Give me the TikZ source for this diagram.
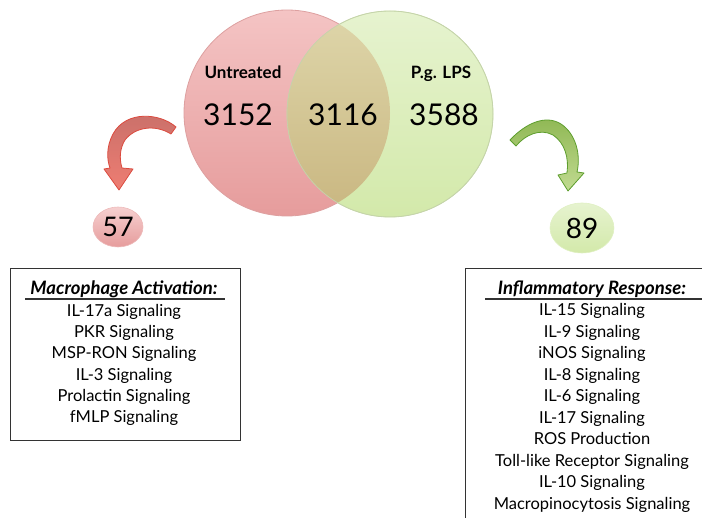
\documentclass[tikz,border=0pt]{standalone}
\usepackage{fontspec}
\setmainfont{Lato}
\usetikzlibrary{shapes.geometric}
\definecolor{pinktop}{HTML}{F4C4C4}
\definecolor{pinkbot}{HTML}{E69C9C}
\definecolor{pinkedge}{HTML}{DDA0A0}
\definecolor{greentop}{HTML}{E6F3CF}
\definecolor{greenbot}{HTML}{D3E9AA}
\definecolor{greenedge}{HTML}{C6DC9E}
\definecolor{olivetop}{HTML}{DED6AA}
\definecolor{olivebot}{HTML}{C9B680}
\definecolor{redfill}{HTML}{EE7D72}
\definecolor{redtop}{HTML}{C9706A}
\definecolor{rededge}{HTML}{DB4A3E}
\definecolor{grfill}{HTML}{A6CB62}
\definecolor{grtop}{HTML}{8DB651}
\definecolor{gredge}{HTML}{5E9E2E}
\definecolor{boxedge}{HTML}{333333}
\begin{document}
\begin{tikzpicture}[x=1pt,y=-1pt,
  vlabel/.style={font=\fontsize{17}{17}\selectfont\bfseries, anchor=base},
  vnum/.style={font=\fontsize{30}{30}\selectfont, anchor=base},
  badge/.style={ellipse, draw=#1!70!white, line width=0.6pt, inner sep=0pt},
  listline/.style={font=\fontsize{16.5}{16.5}\selectfont, anchor=base},
  listtitle/.style={font=\fontsize{18.5}{18.5}\selectfont\bfseries\itshape, anchor=base},
  listbox/.style={draw=boxedge, line width=0.9pt},
  curvedarrow/.style={line width=0.8pt, line join=round}
]
\useasboundingbox (0,0) rectangle (702,518);

% Venn circles
\path[top color=pinktop, bottom color=pinkbot, draw=pinkedge, line width=0.8pt]
  (287,113) circle[radius=103];
\path[top color=greentop, bottom color=greenbot, draw=greenedge, line width=0.8pt]
  (390,114) circle[radius=103];
\begin{scope}
  \clip (287,113) circle[radius=103];
  \path[top color=olivetop, bottom color=olivebot] (390,114) circle[radius=103];
\end{scope}
\draw[greenedge!80!black!60!white, line width=0.5pt] (390,114) circle[radius=103];

\node[vlabel] (untreated) at (243,79) {Untreated};
\node[vlabel] (pglps) at (441,79) {P.g. LPS};
\node[vnum] (n3152) at (238,126) {3152};
\node[vnum] (n3116) at (343,126) {3116};
\node[vnum] (n3588) at (444,126) {3588};

% left curved arrow
\path[curvedarrow, draw=rededge, top color=redtop, bottom color=redfill]
  (176,127) .. controls (160,113) and (126,110) .. (113,134)
  .. controls (106,147) and (107,160) .. (110,168)
  -- (104,169) -- (119,190) -- (133,169) -- (122,168)
  .. controls (119,158) and (120,148) .. (125,140)
  .. controls (135,127) and (155,124) .. (171,134) -- cycle;

% right curved arrow
\path[curvedarrow, draw=gredge, top color=grtop, bottom color=grfill!70!white]
  (510,140) .. controls (525,124) and (545,114) .. (561,124)
  .. controls (576,134) and (581,155) .. (577,172)
  -- (584,173) -- (568,191) -- (558,175) -- (567,173)
  .. controls (569,158) and (565,143) .. (553,135)
  .. controls (540,128) and (525,135) .. (516,146) -- cycle;

% badges
\node[badge=pinkbot, top color=pinktop!80!white, bottom color=pinkbot, minimum width=50pt, minimum height=40pt,
  font=\fontsize{27}{27}\selectfont] (b57) at (118,227) {57};
\node[badge=greenbot, top color=greentop, bottom color=greenbot, minimum width=64pt, minimum height=50pt,
  font=\fontsize{28}{28}\selectfont] (b89) at (582,228) {89};

% left box
\draw[listbox] (10,268) rectangle (240,440);
\node[listtitle] (ltitle) at (124,295) {Macrophage Activation:};
\draw[line width=1.2pt, boxedge] (25,299) -- (225,299);
\node[listline] (l1) at (124,317) {IL-17a Signaling};
\node[listline] (l2) at (124,338) {PKR Signaling};
\node[listline] (l3) at (124,359) {MSP-RON Signaling};
\node[listline] (l4) at (124,381) {IL-3 Signaling};
\node[listline] (l5) at (124,402) {Prolactin Signaling};
\node[listline] (l6) at (124,423) {fMLP Signaling};

% right box
\draw[listbox] (465,268) rectangle (712,530);
\node[listtitle] (rtitle) at (592,295) {Inflammatory Response:};
\draw[line width=1.2pt, boxedge] (485,299) -- (702,299);
\node[listline] (r1) at (592,316) {IL-15 Signaling};
\node[listline] (r2) at (592,338) {IL-9 Signaling};
\node[listline] (r3) at (592,359) {iNOS Signaling};
\node[listline] (r4) at (592,381) {IL-8 Signaling};
\node[listline] (r5) at (592,402) {IL-6 Signaling};
\node[listline] (r6) at (592,424) {IL-17 Signaling};
\node[listline] (r7) at (592,445) {ROS Production};
\node[listline] (r8) at (592,467) {Toll-like Receptor Signaling};
\node[listline] (r9) at (592,488) {IL-10 Signaling};
\node[listline] (r10) at (592,510) {Macropinocytosis Signaling};
\end{tikzpicture}
\end{document}
